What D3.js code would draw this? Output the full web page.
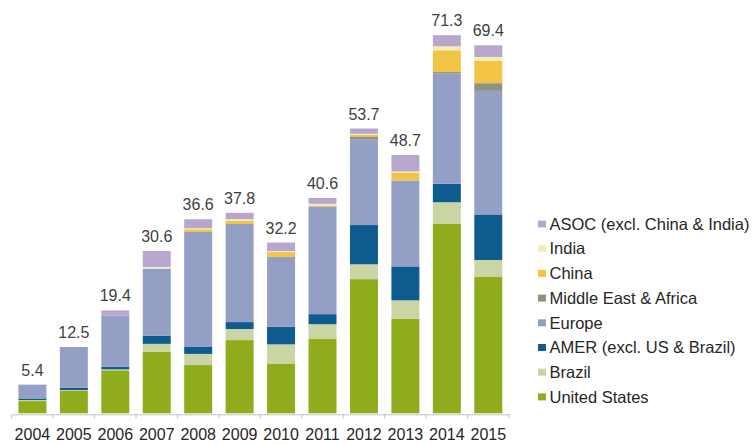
<!DOCTYPE html>
<html>
<head>
<meta charset="utf-8">
<script src="https://cdn.jsdelivr.net/npm/d3@7"></script>
<style>
  html, body { margin: 0; padding: 0; background: #ffffff; }
  svg { display: block; font-family: "Liberation Sans", Arial, sans-serif; }
</style>
</head>
<body>
<svg id="chart" width="756" height="444"></svg>
<script>
// ---- Data ----
const years = ["2004","2005","2006","2007","2008","2009","2010","2011","2012","2013","2014","2015"];
const totals = [5.4, 12.5, 19.4, 30.6, 36.6, 37.8, 32.2, 40.6, 53.7, 48.7, 71.3, 69.4];

const unitedStates = [2.3, 4.3, 8.1, 11.6, 9.1, 13.8, 9.4, 14.0, 25.3, 17.8, 35.7, 25.7];
const brazil       = [0.2, 0.1, 0.2, 1.5, 2.1, 2.1, 3.6, 2.8, 2.8, 3.5, 4.1, 3.2];
const amer         = [0.3, 0.4, 0.5, 1.5, 1.4, 1.3, 3.3, 1.9, 7.4, 6.4, 3.5, 8.6];
const europe       = [2.6, 7.7, 9.6, 12.7, 21.6, 18.5, 13.2, 20.3, 16.1, 16.2, 20.75, 23.3];
const middleEast   = [0, 0, 0, 0, 0, 0, 0, 0, 0.6, 0, 0.3, 1.45];
const china        = [0, 0, 0, 0, 0.5, 0.6, 0.9, 0.2, 0.3, 1.5, 4.1, 4.2];
const india        = [0, 0, 0, 0.3, 0.2, 0.3, 0.2, 0.3, 0.2, 0.2, 0.75, 0.75];
const asoc         = [0, 0, 1.0, 3.0, 1.7, 1.2, 1.6, 1.1, 1.0, 3.1, 2.1, 2.2];

// stacking order bottom -> top
const seriesNames = ["United States", "Brazil", "AMER (excl. US & Brazil)", "Europe",
                     "Middle East & Africa", "China", "India", "ASOC (excl. China & India)"];
const seriesValues = [unitedStates, brazil, amer, europe, middleEast, china, india, asoc];
const seriesColors = ["#8eac1c", "#c9d6a3", "#0d5b8f", "#939fc5",
                      "#8d9182", "#f1c445", "#f3edb8", "#b8a6cf"];

// ---- Build table for d3.stack ----
const keys = seriesNames;
const table = years.map((yr, i) => {
  const row = { year: yr };
  keys.forEach((k, j) => { row[k] = seriesValues[j][i]; });
  return row;
});

const svg = d3.select("#chart");

const x = d3.scaleBand()
  .domain(years)
  .range([11.7, 509])
  .paddingInner(0.325)
  .paddingOuter(0.1625);

const y = d3.scaleLinear()
  .domain([0, d3.max(totals)])
  .range([413.3, 35.2]);

const color = d3.scaleOrdinal().domain(keys).range(seriesColors);

const stacked = d3.stack().keys(keys)(table);

// bars
svg.append("g")
  .selectAll("g")
  .data(stacked)
  .join("g")
  .attr("fill", d => color(d.key))
  .selectAll("rect")
  .data(d => d)
  .join("rect")
  .attr("x", d => x(d.data.year))
  .attr("width", x.bandwidth())
  .attr("y", d => y(d[1]))
  .attr("height", d => Math.max(0, y(d[0]) - y(d[1])));

// axis (labels at centers, no ticks) + ticks at band boundaries
const axisG = svg.append("g")
  .attr("transform", `translate(0, ${y(0) + 1})`)
  .call(d3.axisBottom(x).tickSize(0).tickPadding(14));
axisG.select(".domain").attr("stroke", "#c3c3c3").attr("stroke-width", 1);
axisG.selectAll(".tick text")
  .attr("fill", "#262626")
  .style("font-size", "16px")
  .style("font-family", "'Liberation Sans', Arial, sans-serif");

const step = x.step();
const boundaries = years.map(yr => x(yr) - step * x.paddingInner() / 2)
  .concat([x(years[years.length - 1]) + x.bandwidth() + step * x.paddingInner() / 2]);
axisG.selectAll("line.bound")
  .data(boundaries)
  .join("line")
  .attr("class", "bound")
  .attr("x1", d => d).attr("x2", d => d)
  .attr("y1", 0).attr("y2", 4)
  .attr("stroke", "#c3c3c3");

// total labels
svg.append("g")
  .selectAll("text")
  .data(years)
  .join("text")
  .attr("x", d => x(d) + x.bandwidth() / 2)
  .attr("y", (d, i) => y(totals[i]) - 9)
  .attr("text-anchor", "middle")
  .attr("fill", "#404040")
  .style("font-size", "16px")
  .text((d, i) => totals[i].toFixed(1));

// legend (top -> bottom is reverse of stacking)
const legendItems = keys.slice().reverse();
const legend = svg.append("g").attr("transform", "translate(538, 224)");
const rowH = 24.7;
const li = legend.selectAll("g")
  .data(legendItems)
  .join("g")
  .attr("transform", (d, i) => `translate(0, ${i * rowH})`);
li.append("rect")
  .attr("x", 0).attr("y", -3.5)
  .attr("width", 8).attr("height", 7)
  .attr("fill", d => color(d));
li.append("text")
  .attr("x", 11.5).attr("y", 0)
  .attr("dy", "0.35em")
  .attr("fill", "#262626")
  .style("font-size", "16.5px")
  .text(d => d);
</script>
</body>
</html>
